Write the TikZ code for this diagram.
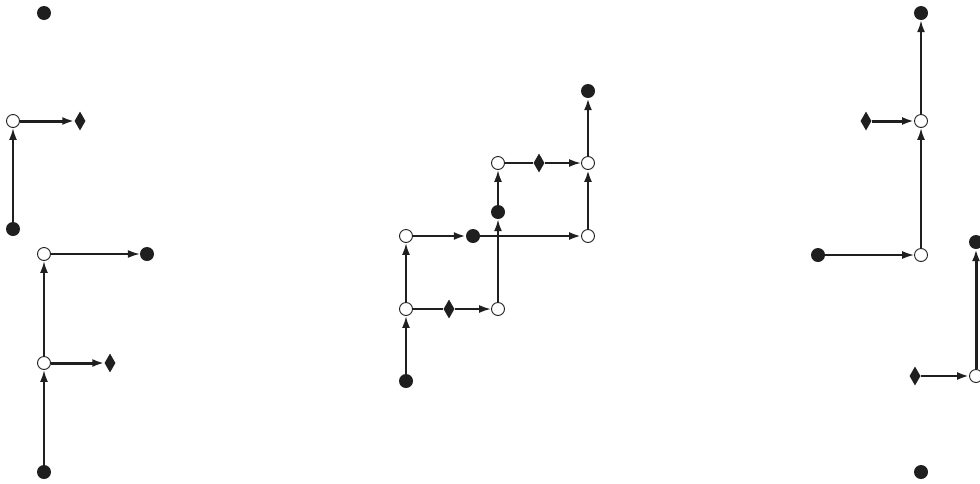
\documentclass[tikz,border=0pt]{standalone}
\usetikzlibrary{arrows.meta,shapes.geometric}
\begin{document}
\begin{tikzpicture}[x=1pt,y=-1pt,
  fdot/.style={circle,fill=black!88,minimum size=14pt,inner sep=0pt},
  odot/.style={circle,draw=black!88,fill=white,line width=0.9pt,minimum size=13pt,inner sep=0pt},
  dia/.style={diamond,fill=black!88,minimum width=11pt,minimum height=19pt,inner sep=0pt},
  conn/.style={draw=black!88,line width=2pt},
  arr/.style={conn,-{Latex[length=12pt,width=8pt]}},
  thk/.style={line width=3pt},
  thn/.style={line width=1.6pt}]
\useasboundingbox (0,0) rectangle (980,483);
% left panel
\node[fdot] (l1) at (44,13) {};
\node[odot] (l2) at (13,121) {};
\node[dia]  (l3) at (80,121) {};
\node[fdot] (l4) at (13,229) {};
\node[odot] (l5) at (44,254) {};
\node[fdot] (l6) at (147,254) {};
\node[odot] (l7) at (44,363) {};
\node[dia]  (l8) at (110,363) {};
\node[fdot] (l9) at (44,472) {};
\draw[arr] (l4) -- (l2);
\draw[arr,thk] (l2) -- (l3);
\draw[arr] (l9) -- (l7);
\draw[arr] (l7) -- (l5);
\draw[arr,thn] (l5) -- (l6);
\draw[arr,thk] (l7) -- (l8);
% middle panel
\node[fdot] (m1) at (588,91) {};
\node[odot] (m2) at (498,163) {};
\node[dia]  (m3) at (539,163) {};
\node[odot] (m4) at (588,163) {};
\node[fdot] (m5) at (498,212) {};
\node[odot] (m6) at (406,236) {};
\node[fdot] (m7) at (473,236) {};
\node[odot] (m8) at (588,236) {};
\node[odot] (m9) at (406,309) {};
\node[dia]  (m10) at (449,309) {};
\node[odot] (m11) at (498,309) {};
\node[fdot] (m12) at (406,381) {};
\draw[arr] (m12) -- (m9);
\draw[arr] (m9) -- (m6);
\draw[conn] (m9) -- (m10);
\draw[arr] (m10) -- (m11);
\draw[arr,line width=2.6pt] (m6) -- (m7);
\draw[arr,line width=2.6pt] (m7) -- (m8);
\draw[arr] (m11) -- (m5);
\draw[arr] (m5) -- (m2);
\draw[conn] (m2) -- (m3);
\draw[arr] (m3) -- (m4);
\draw[arr,line width=2.6pt] (m8) -- (m4);
\draw[arr,line width=2.6pt] (m4) -- (m1);
% right panel
\node[fdot] (r1) at (921,13) {};
\node[dia]  (r2) at (866,121) {};
\node[odot] (r3) at (921,121) {};
\node[fdot] (r4) at (818,255) {};
\node[odot] (r5) at (921,255) {};
\node[fdot] (r6) at (976,242) {};
\node[dia]  (r7) at (915,376) {};
\node[odot] (r8) at (976,376) {};
\node[fdot] (r9) at (921,472) {};
\draw[arr,thn] (r4) -- (r5);
\draw[arr] (r5) -- (r3);
\draw[arr,thk] (r2) -- (r3);
\draw[arr] (r3) -- (r1);
\draw[arr,line width=2.6pt] (r7) -- (r8);
\draw[arr,thk] (r8) -- (r6);
\end{tikzpicture}
\end{document}
